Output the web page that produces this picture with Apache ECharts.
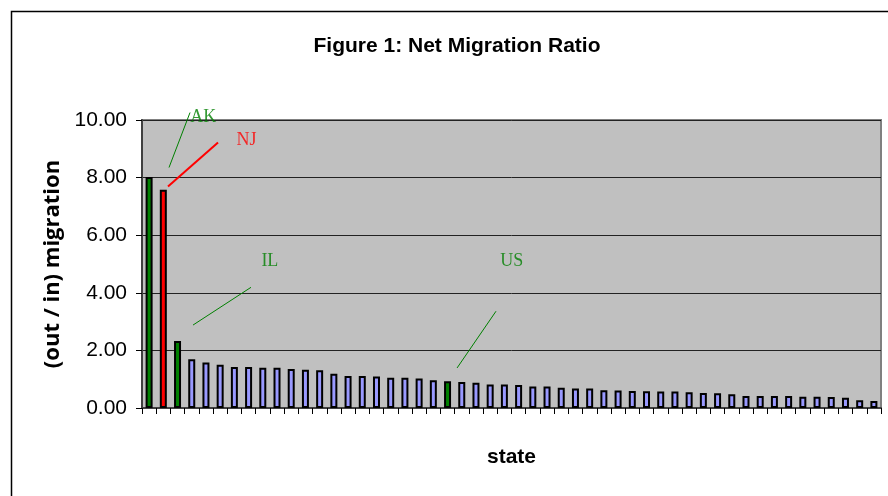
<!DOCTYPE html>
<html>
<head>
<meta charset="utf-8">
<script src="https://cdn.jsdelivr.net/npm/echarts@6/dist/echarts.min.js"></script>
<style>
  html, body { margin: 0; padding: 0; background: #fff; }
  #chart { width: 888px; height: 496px; }
</style>
</head>
<body>
<div id="chart"></div>
<script>
// ---- data ----
const titleText = 'Figure 1: Net Migration Ratio';
const yAxisName = '(out / in) migration';
const xAxisName = 'state';
const states = [
  'AK', 'NJ', 'IL', 'S04', 'S05', 'S06', 'S07', 'S08', 'S09', 'S10',
  'S11', 'S12', 'S13', 'S14', 'S15', 'S16', 'S17', 'S18', 'S19', 'S20',
  'S21', 'US', 'S23', 'S24', 'S25', 'S26', 'S27', 'S28', 'S29', 'S30',
  'S31', 'S32', 'S33', 'S34', 'S35', 'S36', 'S37', 'S38', 'S39', 'S40',
  'S41', 'S42', 'S43', 'S44', 'S45', 'S46', 'S47', 'S48', 'S49', 'S50',
  'S51', 'S52'
];
const ratios = [
  8.02, 7.58, 2.33, 1.69, 1.58, 1.50, 1.42, 1.42, 1.40, 1.40,
  1.35, 1.33, 1.31, 1.19, 1.11, 1.11, 1.09, 1.05, 1.05, 1.02,
  0.96, 0.93, 0.90, 0.88, 0.82, 0.82, 0.80, 0.75, 0.75, 0.70,
  0.68, 0.68, 0.62, 0.61, 0.59, 0.58, 0.57, 0.57, 0.55, 0.52,
  0.51, 0.48, 0.42, 0.42, 0.42, 0.42, 0.39, 0.39, 0.38, 0.36,
  0.27, 0.24
];
const highlightGreen = ['AK', 'IL', 'US'];
const highlightRed = ['NJ'];
const yTicks = [0, 2, 4, 6, 8, 10];
// annotation: label, colour, line start/end and text anchor in (category position, value) space
const annotations = [
  { label: 'AK', color: '#008000', width: 1, line: [[1.90, 8.35], [3.38, 10.26]], text: [3.40, 10.10] },
  { label: 'NJ', color: '#FF0000', width: 2, line: [[1.83, 7.69], [5.35, 9.22]], text: [6.65, 9.30] },
  { label: 'IL', color: '#008000', width: 1, line: [[3.59, 2.88], [7.67, 4.19]], text: [8.40, 5.08] },
  { label: 'US', color: '#008000', width: 1, line: [[22.17, 1.39], [24.91, 3.36]], text: [25.20, 5.10] }
];

// ---- chart ----
const chart = echarts.init(document.getElementById('chart'));
function barColor(name) {
  if (highlightRed.includes(name)) return '#FF0000';
  if (highlightGreen.includes(name)) return '#008000';
  return '#9999FF';
}
const barData = ratios.map((v, i) => ({
  value: v,
  itemStyle: { color: barColor(states[i]) }
}));

const annSeries = [];
annotations.forEach(a => {
  annSeries.push({
    type: 'line', xAxisIndex: 1, yAxisIndex: 0, data: a.line,
    symbol: 'none', silent: true, clip: false, z: 5,
    lineStyle: { color: a.color, width: a.width }
  });
  annSeries.push({
    type: 'scatter', xAxisIndex: 1, yAxisIndex: 0, data: [a.text],
    symbolSize: 0, silent: true, clip: false, z: 6,
    label: {
      show: true, position: 'right', distance: 0, formatter: a.label,
      color: a.color, fontFamily: 'Liberation Serif, serif', fontSize: 18
    }
  });
});

chart.setOption({
  animation: false,
  backgroundColor: '#fff',
  title: {
    text: titleText, left: 452, top: 31, textAlign: 'center',
    textStyle: { fontFamily: 'Liberation Sans, Arial, sans-serif', fontWeight: 'bold', fontSize: 21, color: '#000' }
  },
  graphic: [{
    type: 'rect', left: 9, top: 9, z: 0,
    shape: { width: 900, height: 520 },
    style: { fill: null, stroke: '#000', lineWidth: 1.5 }
  }],
  grid: {
    left: 142, top: 120, right: 7, bottom: 88,
    show: true, backgroundColor: '#C0C0C0', borderColor: '#808080', borderWidth: 2
  },
  xAxis: [{
    type: 'category', data: states, boundaryGap: true,
    name: xAxisName, nameLocation: 'middle', nameGap: 39,
    nameTextStyle: { fontFamily: 'Liberation Sans, Arial, sans-serif', fontWeight: 'bold', fontSize: 21, color: '#000' },
    axisLine: { lineStyle: { color: '#404040', width: 2 } },
    axisTick: { show: true, interval: 0, length: 6, lineStyle: { color: '#000' } },
    axisLabel: { show: false },
    splitLine: { show: false }
  }, {
    type: 'value', min: 0, max: states.length, show: false
  }],
  yAxis: {
    type: 'value', min: yTicks[0], max: yTicks[yTicks.length - 1], interval: 2,
    name: yAxisName, nameLocation: 'middle', nameGap: 76, nameRotate: 90,
    nameTextStyle: { fontFamily: 'Open Sans, sans-serif', fontWeight: 'bold', fontSize: 22, color: '#000' },
    axisLine: { show: true, lineStyle: { color: '#404040', width: 2 } },
    axisTick: { show: true, length: 6, lineStyle: { color: '#000' } },
    axisLabel: {
      formatter: v => v.toFixed(2), margin: 15,
      fontFamily: 'Liberation Sans, Arial, sans-serif', fontSize: 21, color: '#000'
    },
    splitLine: { show: true, lineStyle: { color: '#222', width: 1 } }
  },
  series: [{
    type: 'bar', data: barData, barWidth: 7, z: 3,
    itemStyle: { borderColor: '#000', borderWidth: 2 }
  }].concat(annSeries)
});
</script>
</body>
</html>
